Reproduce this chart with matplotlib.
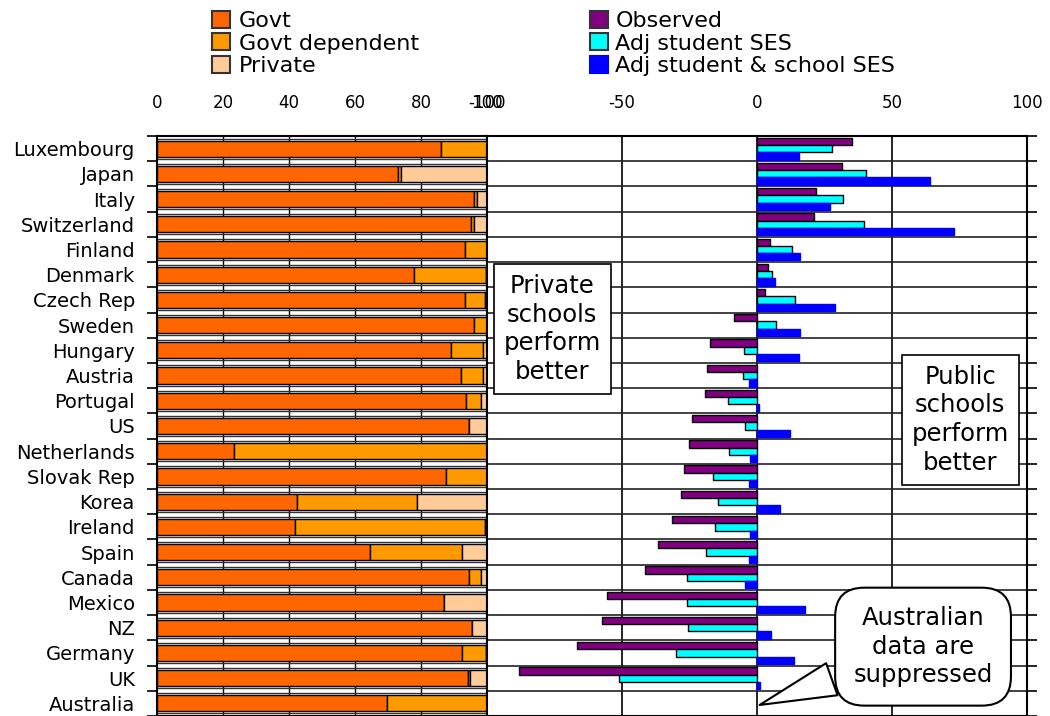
import numpy as np
import matplotlib
matplotlib.use('Agg')
import matplotlib.pyplot as plt
from matplotlib.patches import Patch

plt.rcParams['axes.unicode_minus'] = False

countries = ['Luxembourg', 'Japan', 'Italy', 'Switzerland', 'Finland', 'Denmark',
             'Czech Rep', 'Sweden', 'Hungary', 'Austria', 'Portugal', 'US',
             'Netherlands', 'Slovak Rep', 'Korea', 'Ireland', 'Spain', 'Canada',
             'Mexico', 'NZ', 'Germany', 'UK', 'Australia']

# share of students by school type (%)
govt = [86, 73, 96.2, 95.3, 93.3, 77.8, 93.3, 96, 89, 92.1, 93.7, 94.5,
        23.2, 87.7, 42.4, 41.9, 64.4, 94.6, 86.9, 95.5, 92.5, 94.2, 69.7]
govt_dep = [14, 1, 0.7, 0.9, 6.7, 21.9, 6, 4, 9.9, 6.8, 4.5, 0,
            76.8, 12.3, 36.3, 57.5, 28.1, 3.6, 0, 0, 7.2, 0.7, 30.3]
private = [0, 26, 3.1, 3.8, 0, 0.3, 0.7, 0, 1.1, 1.1, 1.8, 5.5,
           0, 0, 21.3, 0.6, 7.5, 1.8, 13.1, 4.5, 0.3, 5.1, 0]

# public minus private score difference
observed = [35.3, 31.3, 21.8, 21.0, 4.9, 4.0, 2.9, -8.5, -17.4, -18.4, -19.4, -24.1,
            -25.2, -27.1, -28.2, -31.6, -36.6, -41.5, -55.4, -57.4, -66.7, -88.3, np.nan]
adj_student = [27.7, 40.2, 31.7, 39.7, 12.9, 5.5, 14.0, 7.0, -4.9, -5.3, -10.9, -4.3,
               -10.2, -16.3, -14.3, -15.7, -18.8, -26.1, -26.1, -25.6, -30.0, -51.1, np.nan]
adj_school = [15.6, 64.1, 27.0, 73.0, 16.1, 6.7, 29.0, 16.1, 15.6, -2.9, 0.7, 12.1,
              -2.7, -3.1, 8.7, -2.7, -3.1, -4.5, 17.6, 5.3, 13.7, 1.2, np.nan]

c_govt, c_dep, c_priv = '#FF6600', '#FF9900', '#FFCC99'
c_obs, c_adj, c_sch = '#800080', '#00FFFF', '#0000FF'

fig = plt.figure(figsize=(10.5, 7.16), dpi=100)
top = 1 - 136 / 716
axl = fig.add_axes([157 / 1050, 0.0, 330 / 1050, top])
axr = fig.add_axes([487 / 1050, 0.0, 540 / 1050, top])

y = np.arange(len(countries))

# left panel: stacked shares
for v in [20, 40, 60, 80, 100]:
    axl.axvline(v, color='black', lw=1, zorder=0)
for b in np.arange(-0.5, len(countries), 1):
    axl.axhline(b - 0.1, color='#333333', lw=1, zorder=0.5)
    axl.axhline(b + 0.1, color='#333333', lw=1, zorder=0.5)
left = np.zeros(len(countries))
for vals, col in [(govt, c_govt), (govt_dep, c_dep), (private, c_priv)]:
    axl.barh(y, vals, left=left, height=0.64, color=col, edgecolor='black', lw=1, zorder=2)
    left = left + np.array(vals)
axl.set_xlim(0, 100)
axl.set_ylim(len(countries) - 0.5, -0.5)
axl.set_yticks(y)
axl.set_yticklabels(countries, fontsize=14)
axl.set_yticks(np.arange(-0.5, len(countries), 1), minor=True)
axl.tick_params(axis='y', which='major', length=0, pad=16)
axl.tick_params(axis='y', which='minor', length=7, width=1.2, direction='out')
axl.xaxis.tick_top()
axl.set_xticks([0, 20, 40, 60, 80, 100])
axl.tick_params(axis='x', length=0, pad=17, labelsize=12)
for s in axl.spines.values():
    s.set_linewidth(1.5)

# right panel: score differences
for v in [-50, 0, 50]:
    axr.axvline(v, color='black', lw=1.2, zorder=0)
for b in np.arange(-0.5, len(countries), 1):
    axr.axhline(b, color='#222222', lw=1.2, zorder=0.5)
axr.barh(y - 0.29, observed, height=0.29, color=c_obs, edgecolor='black', lw=1, zorder=2)
axr.barh(y, adj_student, height=0.29, color=c_adj, edgecolor='black', lw=1, zorder=2)
axr.barh(y + 0.29, adj_school, height=0.29, color=c_sch, edgecolor=c_sch, lw=1, zorder=2)
axr.set_xlim(-100, 100)
axr.set_ylim(len(countries) - 0.5, -0.5)
axr.set_yticks([])
axr.set_yticks(np.arange(-0.5, len(countries), 1), minor=True)
axr.yaxis.tick_right()
axr.tick_params(axis='y', which='minor', length=7, width=1.2, direction='out')
axr.xaxis.tick_top()
axr.set_xticks([-100, -50, 0, 50, 100])
axr.tick_params(axis='x', length=0, pad=17, labelsize=12)
for s in axr.spines.values():
    s.set_linewidth(1.5)

box = dict(boxstyle='square,pad=0.4', fc='white', ec='black', lw=1.2)
axr.text(-75.8, 7.15, 'Private\nschools\nperform\nbetter', ha='center', va='center',
         fontsize=17.5, linespacing=1.25, bbox=box, zorder=5)
axr.text(75.3, 10.75, 'Public\nschools\nperform\nbetter', ha='center', va='center',
         fontsize=17.5, linespacing=1.25, bbox=box, zorder=5)
axr.annotate('Australian\ndata are\nsuppressed', xy=(0, 22.1), xytext=(61.5, 19.75),
             ha='center', va='center', fontsize=17.5, linespacing=1.25, zorder=6,
             bbox=dict(boxstyle='round,pad=0.75,rounding_size=1.2', fc='white', ec='black', lw=1.5),
             arrowprops=dict(arrowstyle='wedge,tail_width=1.4,shrink_factor=0.5',
                             fc='white', ec='black', lw=1.5))

h1 = [Patch(fc=c, ec='#333333', lw=1.5) for c in (c_govt, c_dep, c_priv)]
fig.legend(h1, ['Govt', 'Govt dependent', 'Private'], loc='upper left',
           bbox_to_anchor=(203 / 1050, 1 - 2 / 716), frameon=False, fontsize=16,
           handlelength=0.8, handleheight=0.8, handletextpad=0.4, labelspacing=0.1,
           borderaxespad=0)
h2 = [Patch(fc=c, ec=e, lw=1.5) for c, e in ((c_obs, '#333333'), (c_adj, '#333333'), (c_sch, c_sch))]
fig.legend(h2, ['Observed', 'Adj student SES', 'Adj student & school SES'], loc='upper left',
           bbox_to_anchor=(581 / 1050, 1 - 2 / 716), frameon=False, fontsize=16,
           handlelength=0.8, handleheight=0.8, handletextpad=0.35, labelspacing=0.1,
           borderaxespad=0)

fig.savefig('out.png', dpi=100)
